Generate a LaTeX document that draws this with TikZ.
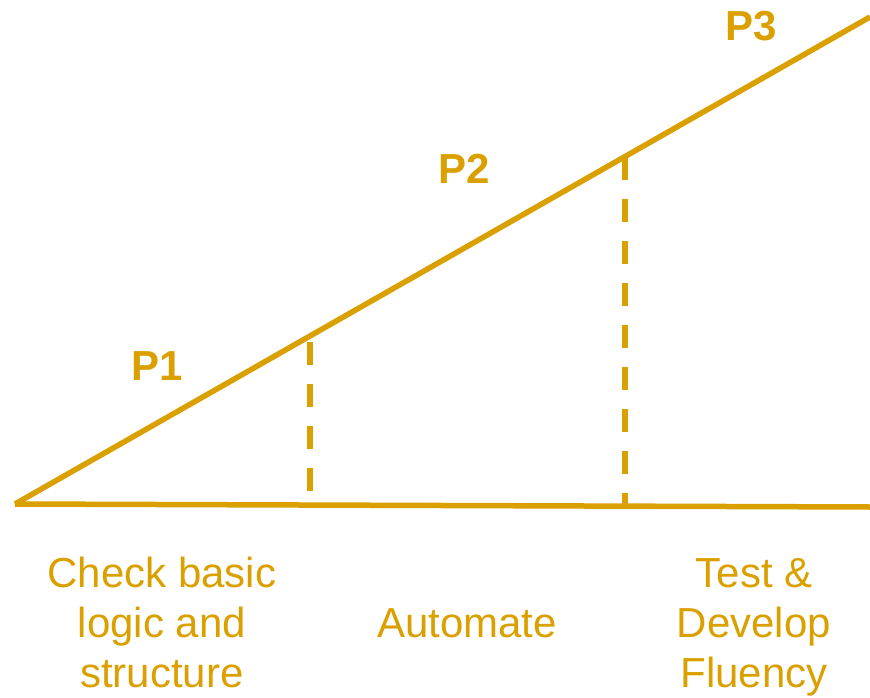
\documentclass[tikz,border=0pt]{standalone}
\usepackage{fontspec}
\setmainfont{Liberation Sans}
\definecolor{gold}{RGB}{218,160,0}
\begin{document}
\begin{tikzpicture}[x=1pt,y=-1pt,
  mainline/.style={draw=gold,line width=5.5pt},
  guide/.style={draw=gold,line width=5.5pt,dash pattern=on 23pt off 19pt},
  plabel/.style={text=gold,font=\fontsize{42}{50}\selectfont\bfseries,anchor=base,inner sep=0pt},
  stagelabel/.style={text=gold,font=\fontsize{42}{50}\selectfont,anchor=base,inner sep=0pt,align=center}]
\useasboundingbox (0,0) rectangle (870,698);
\coordinate (O) at (15,504);
\coordinate (E) at (870,507);
\coordinate (T) at (870,17);
\coordinate (A1) at (310,342);
\coordinate (B1) at (310,491);
\coordinate (A2) at (625,157);
\coordinate (B2) at (625,505);
\draw[mainline] (O) -- (E);
\draw[mainline] (O) -- (T);
\draw[guide] (A1) -- (B1);
\draw[guide] (A2) -- (B2);
\node[plabel] (p1) at (157,380) {P1};
\node[plabel] (p2) at (464,183) {P2};
\node[plabel] (p3) at (751,41) {P3};
\node[stagelabel] (s1) at (162,687) {Check basic\\logic and\\structure};
\node[stagelabel] (s2) at (467,637) {Automate};
\node[stagelabel] (s3) at (754,687) {Test \&\\Develop\\Fluency};
\end{tikzpicture}
\end{document}
